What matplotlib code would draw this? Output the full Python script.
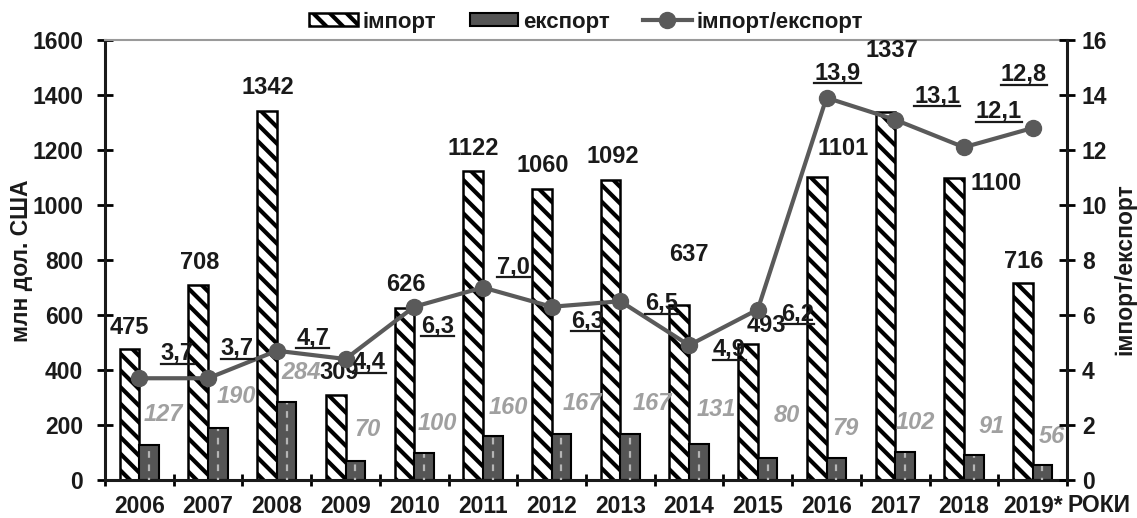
import matplotlib
matplotlib.use("Agg")
import matplotlib.pyplot as plt
from matplotlib.lines import Line2D
from matplotlib.patches import Patch
import numpy as np

plt.rcParams["font.family"] = ["Liberation Sans", "DejaVu Sans"]
plt.rcParams["font.weight"] = "bold"
plt.rcParams["hatch.linewidth"] = 3.0

# data
years = ["2006", "2007", "2008", "2009", "2010", "2011", "2012",
         "2013", "2014", "2015", "2016", "2017", "2018", "2019*"]
imports = [475, 708, 1342, 309, 626, 1122, 1060, 1092, 637, 493, 1101, 1337, 1100, 716]
exports = [127, 190, 284, 70, 100, 160, 167, 167, 131, 80, 79, 102, 91, 56]
ratio = [3.7, 3.7, 4.7, 4.4, 6.3, 7.0, 6.3, 6.5, 4.9, 6.2, 13.9, 13.1, 12.1, 12.8]

# label offsets in pixels (dx, dy), picked to match the original placement
imp_off = [(0, 22), (1, 23), (1, 23), (3, 23), (1, 23), (0, 23), (1, 23), (2, 23),
           (10, 50), (18, 19), (26, 29), (6, 62), (42, -6), (1, 22)]
exp_off = [(14, 31), (18, 31), (14, 29), (12, 31), (13, 29), (16, 29), (21, 31),
           (22, 31), (17, 34), (19, 43), (9, 30), (10, 29), (18, 28), (9, 28)]
rat_off = [(38, 25), (29, 30), (36, 13), (24, -3), (23, -19), (31, 21), (36, -14),
           (41, -2), (40, -4), (40, -4), (11, 25), (42, 24), (35, 36), (-9, 54)]

txt_col = "#1a1a1a"
exp_col = "#555555"
line_col = "#5a5a5a"
lab_gray = "#a0a0a0"

fig = plt.figure(figsize=(11.37, 5.18), dpi=100)
ax = fig.add_axes([105 / 1137, 1 - 480 / 518, (1067 - 105) / 1137, 440 / 518])
x = np.arange(len(years))
w = 0.285

ax.bar(x - w / 2, imports, w, color="white", edgecolor="black", hatch="\\\\",
       linewidth=1.8, zorder=2)
ax.bar(x + w / 2, exports, w, color=exp_col, edgecolor="black", linewidth=1.5, zorder=2)
ax.vlines(x + w / 2, 0, np.array(exports) - 4, colors="#b5b5b5",
          linestyles=(2, (3, 3)), linewidth=1.6, zorder=3)

ax.set_xlim(-0.5, len(years) - 0.5)
ax.set_ylim(0, 1600)
ax.set_yticks(np.arange(0, 1601, 200))
ax.set_xticks(np.arange(-0.5, len(years), 1))
ax.set_xticklabels([])
ax.set_xticks(x, minor=True)
ax.set_xticklabels(years, minor=True)
ax.tick_params(axis="x", which="minor", length=0, pad=11, labelsize=16.5, labelcolor=txt_col)
ax.tick_params(axis="x", which="major", direction="inout", length=9, width=2)
ax.tick_params(axis="y", direction="inout", length=11.5, width=2, pad=10,
               labelsize=16.5, labelcolor=txt_col)

for s in ["left", "bottom"]:
    ax.spines[s].set_linewidth(2.2)
    ax.spines[s].set_color(txt_col)
ax.spines["right"].set_visible(False)
ax.spines["top"].set_color("#9a9a9a")
ax.spines["top"].set_linewidth(1.5)

for i, v in enumerate(imports):
    ax.annotate(str(v), (x[i] - w / 2, v), xytext=imp_off[i], textcoords="offset pixels",
                ha="center", va="center", fontsize=17, color=txt_col, zorder=5)
for i, v in enumerate(exports):
    ax.annotate(str(v), (x[i] + w / 2, v), xytext=exp_off[i], textcoords="offset pixels",
                ha="center", va="center", fontsize=17, color=lab_gray,
                style="italic", zorder=5)

ax2 = ax.twinx()
ax2.plot(x, ratio, color=line_col, lw=3, marker="o", ms=11.5, zorder=4)
ax2.set_ylim(0, 16)
ax2.set_yticks(np.arange(0, 17, 2))
ax2.tick_params(axis="y", direction="inout", length=11.5, width=2, pad=5,
                labelsize=16.5, labelcolor=txt_col)
for s in ["left", "bottom", "top"]:
    ax2.spines[s].set_visible(False)
ax2.spines["right"].set_linewidth(2.2)
ax2.spines["right"].set_color(txt_col)

rat_txt = []
for i, r in enumerate(ratio):
    t = ax2.annotate(f"{r:.1f}".replace(".", ","), (x[i], r), xytext=rat_off[i],
                     textcoords="offset pixels", ha="center", va="center",
                     fontsize=17, color=txt_col, zorder=6)
    rat_txt.append(t)

fig.text(22 / 1137, 1 - 261 / 518, "млн дол. США", rotation=90, ha="center",
         va="center", fontsize=16.5, color=txt_col)
fig.text(1125 / 1137, 1 - 269 / 518, "імпорт/експорт", rotation=90, ha="center",
         va="center", fontsize=16.5, color=txt_col)
fig.text(1099 / 1137, 1 - 506 / 518, "РОКИ", ha="center", va="center",
         fontsize=16.5, color=txt_col)

handles = [Patch(facecolor="white", edgecolor="black", hatch="\\\\", linewidth=1.8),
           Patch(facecolor=exp_col, edgecolor="black", linewidth=1.5),
           Line2D([], [], color=line_col, lw=3, marker="o", ms=11.5)]
fig.legend(handles, ["імпорт", "експорт", "імпорт/експорт"], loc="center",
           bbox_to_anchor=(586 / 1137, 1 - 22 / 518), ncol=3, frameon=False,
           fontsize=16, handlelength=2.2, handleheight=0.55, handletextpad=0.2,
           columnspacing=1.5, labelcolor=txt_col)

# underline the ratio labels
fig.canvas.draw()
rend = fig.canvas.get_renderer()
inv = fig.transFigure.inverted()
for t in rat_txt:
    bb = t.get_window_extent(rend)
    (x0, y0), (x1, _) = inv.transform([(bb.x0, bb.y0 + 1), (bb.x1, bb.y0 + 1)])
    fig.add_artist(Line2D([x0, x1], [y0, y0], color=txt_col, lw=1.6,
                          transform=fig.transFigure))

fig.savefig("out.png", dpi=100)
